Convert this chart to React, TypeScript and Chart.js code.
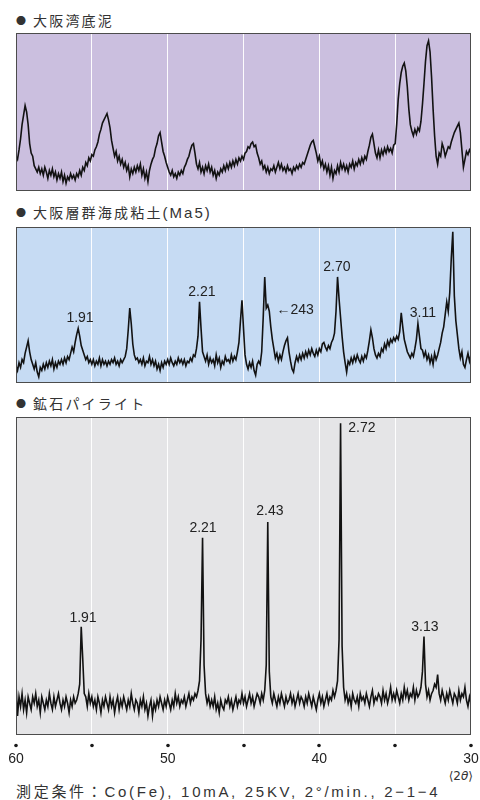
import React, { useEffect, useRef } from "react";
import { Chart, registerables } from "chart.js";

Chart.register(...registerables);

// X-ray diffraction scans, 2θ from 60° down to 30° in 0.1° steps
const SCAN_START = 60;
const SCAN_STEP = 0.1;

// ● 大阪湾底泥 (relative intensity, 0–100)
const osakaBayMud = [
  22, 20, 26, 33, 42, 48, 54, 50, 42, 30,
  24, 22, 16, 14, 12, 15, 11, 14, 10, 15,
  12, 8, 13, 10, 14, 9, 12, 7, 11, 8,
  12, 6, 10, 5, 9, 7, 11, 8, 10, 7,
  11, 9, 13, 10, 15, 13, 18, 16, 21, 19,
  23, 22, 26, 28, 31, 36, 39, 43, 45, 47,
  49, 45, 40, 32, 27, 22, 25, 19, 22, 17,
  20, 15, 18, 13, 16, 9, 14, 11, 15, 12,
  16, 13, 17, 10, 14, 8, 12, 6, 13, 17,
  20, 22, 27, 30, 35, 37, 31, 25, 22, 18,
  15, 12, 10, 13, 9, 11, 8, 12, 10, 13,
  11, 15, 17, 20, 22, 26, 29, 30, 24, 17,
  14, 18, 12, 15, 11, 16, 13, 17, 12, 15,
  10, 13, 8, 12, 10, 14, 12, 16, 13, 17,
  14, 18, 15, 19, 16, 20, 17, 21, 19, 22,
  20, 24, 25, 28, 27, 30, 31, 28, 29, 24,
  21, 17, 19, 14, 16, 12, 15, 11, 14, 13,
  16, 12, 15, 18, 14, 17, 13, 15, 12, 16,
  13, 14, 11, 15, 13, 16, 14, 17, 15, 18,
  17, 20, 23, 26, 29, 31, 32, 28, 24, 19,
  22, 16, 19, 14, 17, 12, 16, 10, 15, 8,
  13, 11, 16, 12, 18, 14, 17, 13, 16, 12,
  17, 15, 19, 14, 18, 16, 20, 17, 21, 18,
  22, 20, 25, 29, 34, 36, 30, 24, 21, 26,
  21, 26, 23, 27, 24, 28, 25, 27, 24, 29,
  30, 42, 58, 68, 75, 79, 81, 76, 66, 52,
  42, 38, 35, 39, 36, 40, 38, 44, 55, 68,
  82, 92, 95, 88, 72, 52, 35, 22, 17, 24,
  22, 30, 27, 22, 25, 28, 27, 31, 34, 37,
  39, 41, 43, 37, 26, 15, 20, 25, 23, 26,
  24,
];

// ● 大阪層群海成粘土(Ma5)
const ma5Clay = [
  11, 8, 13, 10, 15, 13, 19, 23, 27, 20,
  15, 12, 9, 13, 7, 4, 10, 8, 12, 9,
  13, 10, 14, 11, 15, 9, 13, 10, 14, 12,
  15, 12, 16, 13, 17, 15, 19, 23, 20, 26,
  31, 35, 30, 24, 21, 18, 15, 17, 13, 15,
  12, 15, 11, 14, 12, 16, 11, 15, 12, 14,
  11, 14, 12, 15, 13, 16, 12, 14, 11, 15,
  13, 15, 17, 22, 34, 48, 38, 25, 18, 15,
  16, 13, 15, 12, 16, 11, 14, 13, 17, 12,
  15, 11, 14, 9, 12, 8, 13, 10, 14, 12,
  15, 12, 16, 13, 11, 14, 12, 16, 13, 15,
  12, 15, 11, 14, 13, 16, 14, 18, 17, 22,
  30, 52, 35, 20, 17, 14, 18, 12, 16, 13,
  15, 11, 18, 13, 16, 10, 14, 12, 17, 14,
  15, 13, 18, 14, 17, 15, 20, 26, 40, 53,
  35, 18, 12, 9, 13, 10, 14, 8, 5, 12,
  14, 12, 20, 42, 68, 48, 50, 46, 36, 28,
  22, 16, 19, 14, 18, 15, 20, 24, 27, 29,
  20, 14, 9, 7, 13, 17, 14, 18, 15, 19,
  16, 20, 17, 21, 18, 22, 19, 17, 21, 18,
  22, 20, 25, 26, 23, 21, 24, 22, 26, 28,
  32, 46, 68, 54, 42, 30, 20, 13, 7, 14,
  12, 16, 13, 17, 14, 18, 15, 13, 17, 14,
  18, 16, 21, 27, 34, 29, 22, 18, 16, 19,
  17, 22, 20, 25, 22, 27, 24, 28, 26, 29,
  27, 30, 28, 33, 45, 36, 28, 24, 20, 18,
  16, 19, 17, 22, 28, 38, 30, 22, 21, 17,
  20, 15, 18, 13, 17, 12, 19, 15, 18, 22,
  26, 32, 36, 44, 52, 46, 58, 80, 97, 56,
  40, 31, 22, 16, 20, 12, 10, 15, 19, 14,
  18,
];

// ● 鉱石パイライト
const pyrite = [
  16, 6, 12, 9, 13, 8, 11, 7, 12, 10,
  8, 12, 10, 13, 9, 11, 7, 12, 10, 8,
  11, 9, 13, 10, 8, 12, 9, 11, 13, 10,
  8, 11, 9, 12, 10, 7, 11, 9, 12, 10,
  11, 13, 16, 34, 24, 13, 12, 9, 13, 10,
  12, 9, 11, 8, 12, 10, 7, 11, 9, 12,
  10, 8, 12, 9, 11, 7, 10, 12, 8, 11,
  9, 12, 10, 8, 11, 9, 13, 10, 8, 11,
  10, 7, 11, 9, 12, 8, 10, 6, 9, 11,
  6, 10, 8, 11, 9, 12, 10, 8, 11, 9,
  12, 10, 8, 11, 9, 13, 10, 12, 9, 11,
  10, 12, 9, 11, 13, 10, 12, 11, 13, 12,
  14, 17, 30, 62, 22, 13, 10, 12, 9, 11,
  9, 12, 8, 10, 7, 11, 9, 8, 11, 10,
  12, 9, 11, 8, 10, 12, 9, 11, 10, 13,
  10, 12, 9, 11, 13, 10, 12, 9, 11, 13,
  12, 10, 13, 11, 14, 22, 67, 20, 12, 10,
  13, 11, 9, 12, 10, 13, 11, 9, 12, 10,
  11, 13, 10, 12, 9, 11, 13, 10, 12, 11,
  9, 12, 10, 13, 11, 9, 12, 10, 8, 11,
  13, 10, 12, 9, 11, 13, 10, 12, 11, 14,
  12, 14, 17, 30, 98, 28, 15, 11, 13, 10,
  12, 9, 13, 11, 10, 12, 9, 13, 11, 12,
  10, 13, 11, 9, 12, 14, 10, 12, 11, 13,
  12, 10, 14, 11, 13, 10, 12, 15, 11, 13,
  11, 14, 12, 10, 13, 11, 15, 12, 14, 11,
  13, 12, 15, 11, 14, 12, 13, 15, 20, 31,
  16, 12, 14, 11, 13, 14, 16, 15, 19, 13,
  11, 14, 12, 10, 13, 11, 14, 12, 10, 13,
  12, 10, 14, 11, 13, 12, 15, 11, 9, 12,
  10,
];

// d-spacing annotations (anchor in 2θ / intensity units)
const ma5Labels = [
  { text: "1.91", at: 55.78, level: 41.7 },
  { text: "2.21", at: 47.74, level: 58.3 },
  { text: "←243", at: 41.6, level: 46.8 },
  { text: "2.70", at: 38.84, level: 74.4 },
  { text: "3.11", at: 33.17, level: 44.9 },
];
const pyriteLabels = [
  { text: "2.72", at: 37.19, level: 96.5 },
  { text: "2.43", at: 43.26, level: 70.4 },
  { text: "2.21", at: 47.67, level: 65.1 },
  { text: "1.91", at: 55.58, level: 36.8 },
  { text: "3.13", at: 33.04, level: 34.0 },
];

const tickValues = [60, 55, 50, 45, 40, 35, 30];
const tickLabels = ["60", "", "50", "", "40", "", "30"];

const LATIN = '"Liberation Sans", Arial, "Noto Sans CJK JP", sans-serif';
const CJK = '"Noto Sans CJK JP", "Liberation Sans", sans-serif';

const framePlugin = {
  id: "frame",
  beforeDraw(chart: any, _a: any, opts: any) {
    const { ctx, chartArea } = chart;
    ctx.save();
    ctx.fillStyle = opts.bg;
    ctx.fillRect(chartArea.left, chartArea.top, chartArea.right - chartArea.left, chartArea.bottom - chartArea.top);
    ctx.restore();
  },
  afterDatasetsDraw(chart: any, _a: any, opts: any) {
    const { ctx } = chart;
    const xs = chart.scales.x;
    const ys = chart.scales.y;
    ctx.save();
    ctx.fillStyle = "#222";
    ctx.font = `14px ${LATIN}`;
    ctx.textBaseline = "middle";
    ctx.textAlign = "center";
    for (const l of opts.labels || []) {
      ctx.fillText(l.text, xs.getPixelForValue(l.at), ys.getPixelForValue(l.level));
    }
    ctx.restore();
  },
  afterDraw(chart: any) {
    const { ctx, chartArea } = chart;
    ctx.save();
    ctx.strokeStyle = "#4c4c4c";
    ctx.lineWidth = 1;
    ctx.strokeRect(
      Math.round(chartArea.left) + 0.5,
      Math.round(chartArea.top) + 0.5,
      Math.round(chartArea.right - chartArea.left) - 1,
      Math.round(chartArea.bottom - chartArea.top) - 1
    );
    const xs = chart.scales.x;
    if (xs.options.ticks.display) {
      // small dot marks under each x tick (as in the printed figure)
      ctx.fillStyle = "#1a1a1a";
      for (const v of tickValues) {
        const px = Math.round(xs.getPixelForValue(v));
        ctx.beginPath();
        ctx.arc(px, chartArea.bottom + 10.5, 1.8, 0, Math.PI * 2);
        ctx.fill();
      }
    }
    ctx.restore();
  },
};

function Panel(props: {
  values: number[];
  labels: any[];
  bg: string;
  showAxis: boolean;
  top: number;
  height: number;
}) {
  const ref = useRef<HTMLCanvasElement>(null);
  useEffect(() => {
    const canvas = ref.current!;
    const points = props.values.map((v, i) => ({
      x: Math.round((SCAN_START - i * SCAN_STEP) * 10) / 10,
      y: v,
    }));
    const chart = new Chart(canvas, {
      type: "line",
      data: {
        datasets: [
          {
            data: points,
            borderColor: "#121212",
            borderWidth: 1.6,
            pointRadius: 0,
            tension: 0,
            fill: false,
          },
        ],
      },
      options: {
        animation: false,
        responsive: false,
        events: [],
        layout: { padding: { left: 16, right: 9, top: 0, bottom: 0 } },
        plugins: {
          legend: { display: false },
          tooltip: { enabled: false },
          frame: { bg: props.bg, labels: props.labels },
        } as any,
        scales: {
          x: {
            type: "linear",
            min: 30,
            max: 60,
            reverse: true,
            afterBuildTicks: (s: any) => {
              s.ticks = tickValues.map((v) => ({ value: v }));
            },
            grid: {
              color: "rgba(255,255,255,0.95)",
              lineWidth: 1,
              drawTicks: props.showAxis,
              tickLength: 17,
              tickColor: "rgba(0,0,0,0)",
            },
            border: { display: false },
            ticks: {
              display: props.showAxis,
              autoSkip: false,
              maxRotation: 0,
              padding: 0,
              color: "#222",
              font: { family: LATIN, size: 14, lineHeight: 1 },
              callback: (v: any) => {
                const idx = tickValues.indexOf(Number(v));
                return idx >= 0 ? tickLabels[idx] : "";
              },
            },
          },
          y: { min: 0, max: 100, display: false },
        },
      },
      plugins: [framePlugin as any],
    });
    return () => chart.destroy();
  }, []);
  return (
    <canvas
      ref={ref}
      width={480}
      height={props.height}
      style={{ position: "absolute", left: 0, top: props.top, width: 480, height: props.height }}
    />
  );
}

function Title(props: { text: string; latin?: string; center: number }) {
  return (
    <div
      style={{
        position: "absolute",
        left: 16,
        top: props.center - 9,
        height: 18,
        lineHeight: "18px",
        fontFamily: CJK,
        fontSize: 14,
        color: "#333",
        letterSpacing: "2.2px",
        whiteSpace: "nowrap",
      }}
    >
      <span style={{ fontSize: 10, letterSpacing: 0, marginRight: 7, position: "relative", top: -1 }}>●</span>
      {props.text}
      {props.latin ? (
        <span style={{ fontFamily: LATIN, fontSize: 15, letterSpacing: "2px" }}>{props.latin}</span>
      ) : null}
    </div>
  );
}

export default function App() {
  return (
    <div
      style={{
        position: "absolute",
        left: 0,
        top: 0,
        width: 480,
        height: 800,
        background: "#fff",
        overflow: "hidden",
      }}
    >
      <Title text="大阪湾底泥" center={20} />
      <Panel values={osakaBayMud} labels={[]} bg="#cbbfdf" showAxis={false} top={33} height={158} />
      <Title text="大阪層群海成粘土" latin="(Ma5)" center={212} />
      <Panel values={ma5Clay} labels={ma5Labels} bg="#c6dbf3" showAxis={false} top={227} height={156} />
      <Title text="鉱石パイライト" center={403} />
      <Panel values={pyrite} labels={pyriteLabels} bg="#e5e5e7" showAxis={true} top={417} height={349} />
      <div
        style={{
          position: "absolute",
          right: 7,
          top: 768,
          fontFamily: '"DejaVu Sans", sans-serif',
          fontSize: 12,
          lineHeight: "16px",
          color: "#333",
          whiteSpace: "nowrap",
          textAlign: "right",
        }}
      >
        ⟨2<i>θ</i>⟩
      </div>
      <div
        style={{
          position: "absolute",
          left: 16,
          top: 783,
          fontFamily: LATIN,
          fontSize: 15,
          lineHeight: "18px",
          color: "#333",
          letterSpacing: "2.7px",
          whiteSpace: "nowrap",
        }}
      >
        測定条件：Co(Fe), 10mA, 25KV, 2°/min., 2−1−4
      </div>
    </div>
  );
}
